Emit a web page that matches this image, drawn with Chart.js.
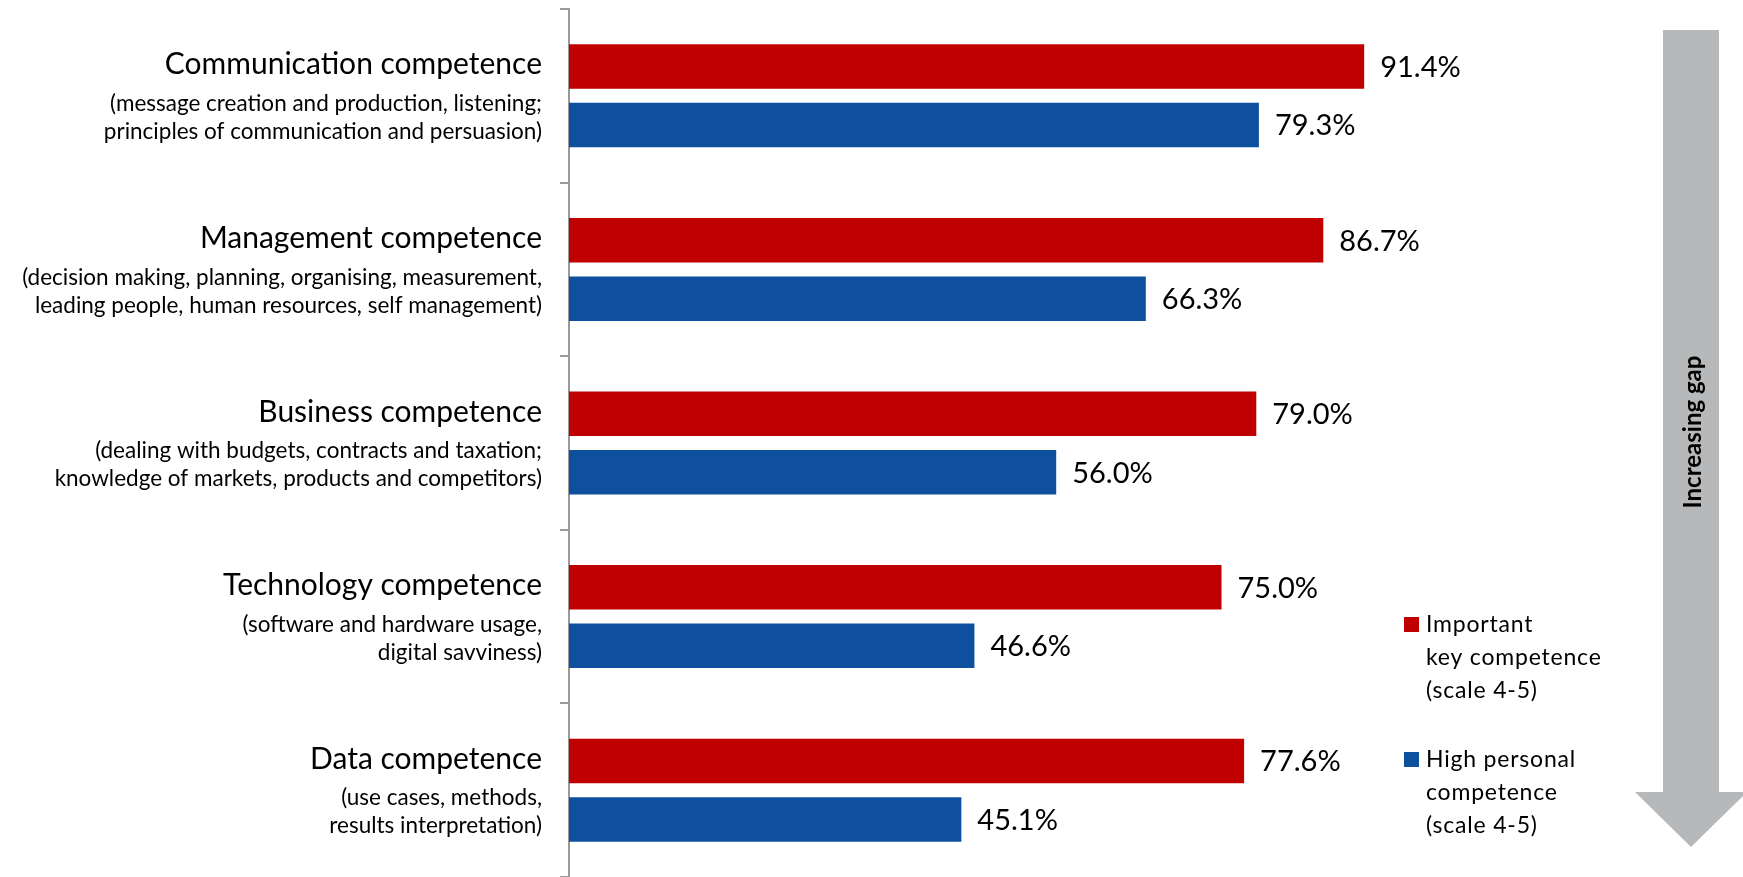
<!DOCTYPE html>
<html>
<head>
<meta charset="utf-8">
<title>Key competences</title>
<script src="https://cdn.jsdelivr.net/npm/chart.js@4.4.0/dist/chart.umd.min.js"></script>
<style>
  html, body { margin: 0; padding: 0; background: #fff; }
  #wrap { width: 1743px; height: 877px; position: relative; }
</style>
</head>
<body>
<div id="wrap"><canvas id="chart"></canvas></div>
<script>
// categories, top to bottom
const categories = [
  'Communication competence',
  'Management competence',
  'Business competence',
  'Technology competence',
  'Data competence'
];
const categoryNotes = [
  ['(message creation and production, listening;', 'principles of communication and persuasion)'],
  ['(decision making, planning, organising, measurement,', 'leading people, human resources, self management)'],
  ['(dealing with budgets, contracts and taxation;', 'knowledge of markets, products and competitors)'],
  ['(software and hardware usage,', 'digital savviness)'],
  ['(use cases, methods,', 'results interpretation)']
];
// share of respondents, %
const importantValues = [91.4, 86.7, 79.0, 75.0, 77.6];
const personalValues = [79.3, 66.3, 56.0, 46.6, 45.1];
const seriesNames = [
  ['Important', 'key competence', '(scale 4-5)'],
  ['High personal', 'competence', '(scale 4-5)']
];
const seriesColors = ['#C00000', '#0E4F9E'];
const arrowLabel = 'Increasing gap';

const FONT = 'Lato, "Open Sans", sans-serif';
const AXIS_GREY = '#9a9a9a';

// category titles + notes to the left of the axis
const categoryLabels = {
  id: 'categoryLabels',
  afterDraw(chart) {
    const ctx = chart.ctx;
    const y = chart.scales.y;
    const right = chart.chartArea.left - 27;
    ctx.save();
    ctx.fillStyle = '#000';
    ctx.textAlign = 'right';
    ctx.textBaseline = 'middle';
    categories.forEach((name, i) => {
      const cy = y.getPixelForValue(i);
      ctx.font = '30px ' + FONT;
      ctx.fillText(name, right, cy - 31);
      ctx.font = '22.5px ' + FONT;
      categoryNotes[i].forEach((line, j) => {
        ctx.fillText(line, right, cy + 8 + j * 28);
      });
    });
    ctx.restore();
  }
};

// percentage next to each bar
const valueLabels = {
  id: 'valueLabels',
  afterDatasetsDraw(chart) {
    const ctx = chart.ctx;
    ctx.save();
    ctx.fillStyle = '#000';
    ctx.font = '29px ' + FONT;
    ctx.textAlign = 'left';
    ctx.textBaseline = 'middle';
    chart.data.datasets.forEach((ds, d) => {
      chart.getDatasetMeta(d).data.forEach((bar, i) => {
        ctx.fillText(ds.data[i].toFixed(1) + '%', bar.x + 16, bar.y + 1);
      });
    });
    ctx.restore();
  }
};

// legend with wrapped entries, right of the bars
const sideLegend = {
  id: 'sideLegend',
  afterDraw(chart) {
    const ctx = chart.ctx;
    const x = 1404;
    const tops = [617, 752];
    ctx.save();
    ctx.textAlign = 'left';
    ctx.textBaseline = 'middle';
    ctx.font = '23px ' + FONT;
    ctx.letterSpacing = '0.8px';
    chart.data.datasets.forEach((ds, d) => {
      ctx.fillStyle = ds.backgroundColor;
      ctx.fillRect(x, tops[d], 15, 15);
      ctx.fillStyle = '#000';
      seriesNames[d].forEach((line, j) => {
        ctx.fillText(line, x + 22, tops[d] + 8 + j * 33);
      });
    });
    ctx.restore();
  }
};

// big grey arrow down the right side
const gapArrow = {
  id: 'gapArrow',
  afterDraw(chart) {
    const ctx = chart.ctx;
    const cx = 1691, half = 28, headHalf = 56;
    const top = 30, headTop = 792, tip = 847;
    ctx.save();
    ctx.fillStyle = '#B7B8BA';
    ctx.beginPath();
    ctx.moveTo(cx - half, top);
    ctx.lineTo(cx + half, top);
    ctx.lineTo(cx + half, headTop);
    ctx.lineTo(cx + headHalf, headTop);
    ctx.lineTo(cx, tip);
    ctx.lineTo(cx - headHalf, headTop);
    ctx.lineTo(cx - half, headTop);
    ctx.closePath();
    ctx.fill();
    ctx.translate(cx + 2, 432);
    ctx.rotate(-Math.PI / 2);
    ctx.fillStyle = '#000';
    ctx.font = 'bold 24px ' + FONT;
    ctx.textAlign = 'center';
    ctx.textBaseline = 'middle';
    ctx.fillText(arrowLabel, 0, 0);
    ctx.restore();
  }
};

new Chart(document.getElementById('chart'), {
  type: 'bar',
  data: {
    labels: categories,
    datasets: [
      { label: seriesNames[0].join(' '), data: importantValues, backgroundColor: seriesColors[0] },
      { label: seriesNames[1].join(' '), data: personalValues, backgroundColor: seriesColors[1] }
    ]
  },
  options: {
    indexAxis: 'y',
    responsive: true,
    maintainAspectRatio: false,
    animation: false,
    categoryPercentage: 0.674,
    barPercentage: 0.76,
    layout: { padding: { top: 9, right: 304, bottom: 0, left: 0 } },
    plugins: {
      legend: { display: false },
      tooltip: { enabled: false }
    },
    scales: {
      x: { display: false, min: 0, max: 100 },
      y: {
        afterFit(scale) { scale.width = 569; },
        ticks: { display: false },
        grid: {
          offset: true,
          drawOnChartArea: false,
          drawTicks: true,
          tickLength: 9,
          color: AXIS_GREY,
          lineWidth: 2
        },
        border: { display: true, color: AXIS_GREY, width: 2 }
      }
    }
  },
  plugins: [categoryLabels, valueLabels, sideLegend, gapArrow]
});
</script>
</body>
</html>
